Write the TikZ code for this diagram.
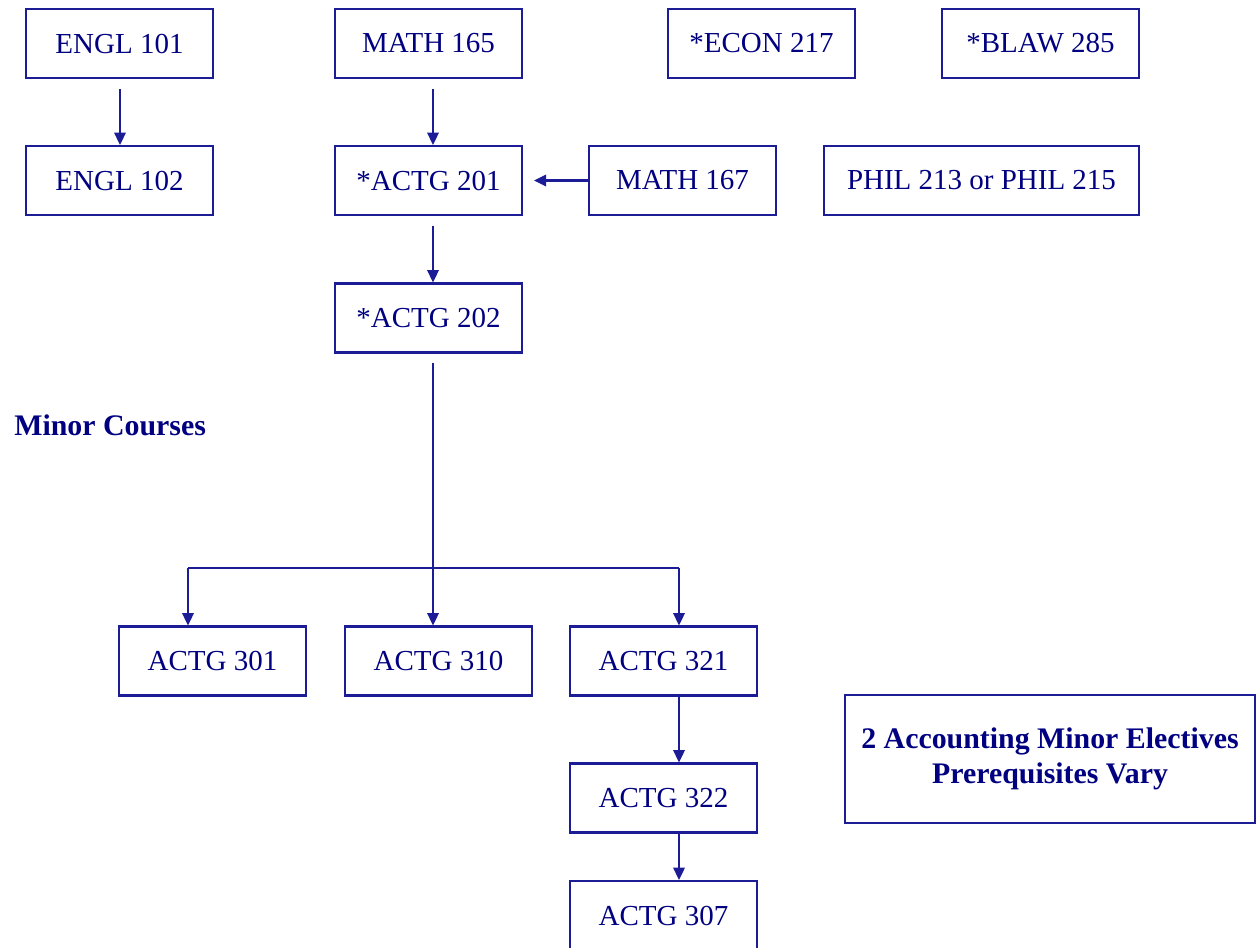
\documentclass[tikz,border=0pt]{standalone}
\usepackage{fontspec}
\setmainfont{Liberation Serif}
\usetikzlibrary{arrows.meta}
\definecolor{navyink}{RGB}{0,0,128}
\definecolor{navyline}{RGB}{28,28,150}
\tikzset{
  course/.style={draw=navyline, line width=1.2pt, text=navyink,
    minimum width=3.74cm, minimum height=1.38cm, inner sep=2pt,
    font=\fontsize{16.5}{19}\selectfont},
  link/.style={draw=navyline, line width=1.2pt,
    -{Triangle[width=6.5pt,length=7pt]}},
  gap/.style={shorten <=5.6pt},
  heading/.style={text=navyink, inner sep=0pt,
    font=\fontsize{17}{20}\selectfont\bfseries}
}
\begin{document}
\begin{tikzpicture}[x=0.02cm,y=0.02cm]
\useasboundingbox (0,0) rectangle (1257,-947);
% first year
\node[course] (engl101) at (119.5,-43.5) {ENGL 101};
\node[course] (math165) at (428.5,-43.5) {MATH 165};
\node[course] (econ217) at (761.5,-43.5) {*ECON 217};
\node[course, minimum width=3.94cm] (blaw285) at (1040.5,-43.5) {*BLAW 285};
\node[course] (engl102) at (119.5,-180.5) {ENGL 102};
\node[course] (actg201) at (428.5,-180.5) {*ACTG 201};
\node[course] (math167) at (682.5,-180.5) {MATH 167};
\node[course, minimum width=6.3cm] (phil) at (981.5,-180.5) {PHIL 213 or PHIL 215};
\node[course] (actg202) at (428.5,-318) {*ACTG 202};
% minor
\node[heading, anchor=west] (minor) at (14,-425) {Minor Courses};
\node[course] (actg301) at (212.5,-661) {ACTG 301};
\node[course] (actg310) at (438.5,-661) {ACTG 310};
\node[course] (actg321) at (663.5,-661) {ACTG 321};
\node[course] (actg322) at (663.5,-798) {ACTG 322};
\node[course] (actg307) at (663.5,-915.5) {ACTG 307};
\node[course, minimum width=8.2cm, minimum height=2.56cm, align=center,
  font=\fontsize{17}{20}\selectfont\bfseries] (electives) at (1050,-759)
  {2 Accounting Minor Electives\\Prerequisites Vary};
\coordinate (fork) at (433,-568);
\coordinate (forkl) at (188,-568);
\coordinate (forkr) at (679,-568);
% prerequisites
\draw[link, gap] (engl101.south -| 120,0) -- (engl102.north -| 120,0);
\draw[link, gap] (math165.south -| fork) -- (actg201.north -| fork);
\draw[link, shorten >=6.2pt] (math167.west) -- (actg201.east);
\draw[link, gap] (actg201.south -| fork) -- (actg202.north -| fork);
\draw[link, gap] (actg202.south -| fork) -- (fork) -- (actg310.north -| fork);
\draw[draw=navyline, line width=1.2pt] (forkl) -- (forkr);
\draw[link] (forkl) -- (actg301.north -| forkl);
\draw[link] (forkr) -- (actg321.north -| forkr);
\draw[link] (actg321.south -| forkr) -- (actg322.north -| forkr);
\draw[link] (actg322.south -| forkr) -- (actg307.north -| forkr);
\end{tikzpicture}
\end{document}
